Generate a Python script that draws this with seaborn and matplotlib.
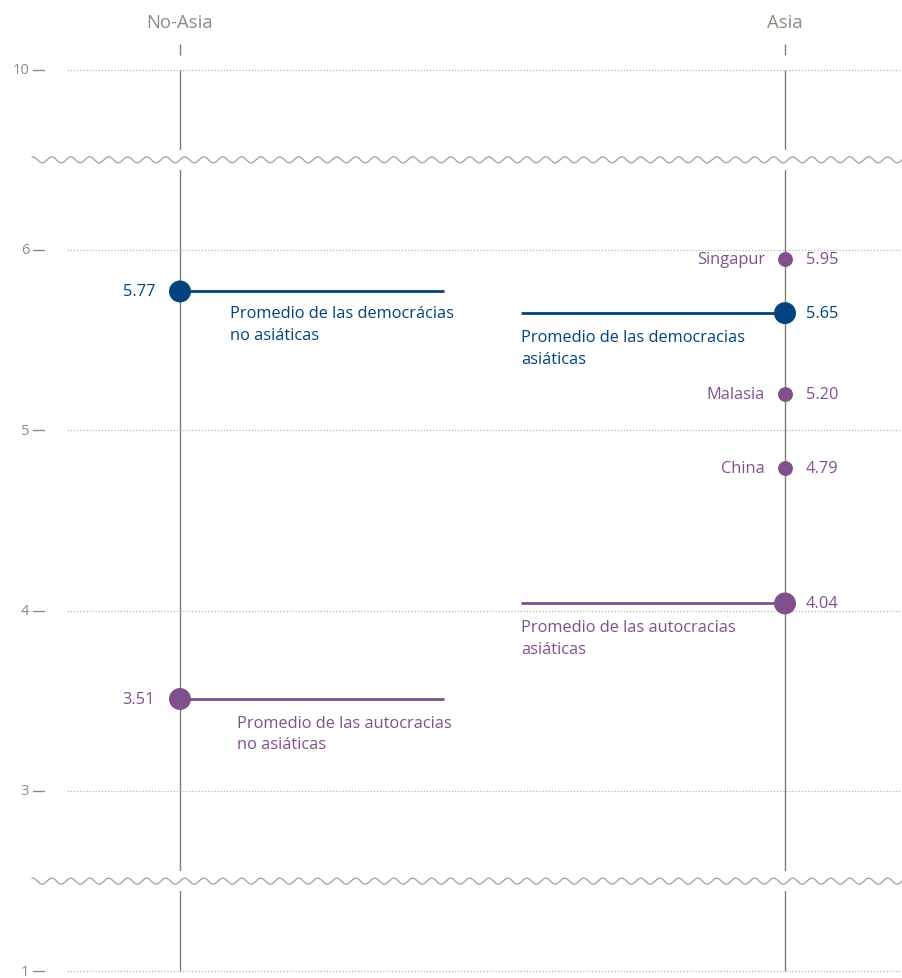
import matplotlib
matplotlib.use("Agg")
import matplotlib.pyplot as plt
import numpy as np
import pandas as pd
import seaborn as sns

# Data
regions = ["No-Asia", "Asia"]
avg_region = ["No-Asia", "No-Asia", "Asia", "Asia"]
avg_regime = ["democracia", "autocracia", "democracia", "autocracia"]
avg_values = [5.77, 3.51, 5.65, 4.04]
avg_labels = [
    "Promedio de las democrácias\nno asiáticas",
    "Promedio de las autocracias\nno asiáticas",
    "Promedio de las democracias\nasiáticas",
    "Promedio de las autocracias\nasiáticas",
]
countries = ["Singapur", "Malasia", "China"]
country_values = [5.95, 5.20, 4.79]
tick_values = [10, 6, 5, 4, 3, 1]

# Colours
BLUE = "#00437f"
PURPLE = "#80508c"
GREY_TXT = "#8c8c82"
GREY_LINE = "#7d7d73"
GRID = "#b8b8b0"
palette = {"democracia": BLUE, "autocracia": PURPLE}

# pixel sizes in data units (x: 605 px per region step, y: 180.33 px per unit)
PX_X = 1 / 605
PX_Y = 1 / 180.33
FS = 11.8


def to_pos(v):
    # broken axis: 10 is drawn where 7 would be, 1 where 2 would be
    if v >= 7:
        return 7
    if v <= 2:
        return 2
    return v


sns.set_theme(style="white")
plt.rcParams["font.family"] = ["Open Sans", "DejaVu Sans"]

fig = plt.figure(figsize=(9.03, 9.79), dpi=100)
ax = fig.add_axes([0, 0, 1, 1])
ax.axis("off")

x_of = {r: i for i, r in enumerate(regions)}

# dotted gridlines and tick labels
for t in tick_values:
    y = to_pos(t)
    ax.plot([-113 * PX_X, 1 + 115 * PX_X], [y, y], color=GRID, lw=0.9,
            linestyle=(0, (1, 1.5)), zorder=1)
    ax.text(-151 * PX_X, y, str(t), ha="right", va="center", fontsize=10.5,
            color=GREY_TXT)
    ax.plot([-147 * PX_X, -136 * PX_X], [y, y], color=GREY_TXT, lw=1, zorder=1)

# region columns
for r in regions:
    x = x_of[r]
    ax.text(x, 6 + 228 * PX_Y, r, ha="center", va="center", fontsize=13.3,
            color=GREY_TXT)
    ax.vlines(x, to_pos(10) + 15 * PX_Y, to_pos(10) + 26 * PX_Y,
              color=GREY_LINE, lw=1, zorder=1)
    ax.vlines(x, to_pos(1), to_pos(10), color=GREY_LINE, lw=1, zorder=1)

# axis breaks (wavy lines)
for yb in [6.5, 2.5]:
    for r in regions:
        ax.vlines(x_of[r], yb - 10 * PX_Y, yb + 10 * PX_Y, color="white",
                  lw=3, zorder=2)
    xs = np.linspace(-148 * PX_X, 1 + 118 * PX_X, 1500)
    ys = yb + 3 * PX_Y * np.sin(2 * np.pi * (xs / (19 * PX_X)))
    ax.plot(xs, ys, color="#a8a8a0", lw=1.0, zorder=3)

# averages
avg = pd.DataFrame({
    "region": avg_region,
    "regime": avg_regime,
    "value": avg_values,
    "label": avg_labels,
})
avg["x"] = avg["region"].map(x_of)
avg["y"] = avg["value"].map(to_pos)

line_len = 264 * PX_X
for _, row in avg.iterrows():
    c = palette[row["regime"]]
    if row["region"] == "No-Asia":
        ax.hlines(row["y"], row["x"], row["x"] + line_len, color=c, lw=2,
                  zorder=4)
        ax.text(row["x"] - 25 * PX_X, row["y"], f"{row['value']:.2f}",
                ha="right", va="center", fontsize=FS, color=c)
        dx = 50 if row["regime"] == "democracia" else 57
        dy = 14 if row["regime"] == "democracia" else 16
        ax.text(row["x"] + dx * PX_X, row["y"] - dy * PX_Y, row["label"],
                ha="left", va="top", fontsize=FS, color=c, linespacing=1.45)
    else:
        ax.hlines(row["y"], row["x"] - line_len, row["x"], color=c, lw=2,
                  zorder=4)
        ax.text(row["x"] + 21 * PX_X, row["y"], f"{row['value']:.2f}",
                ha="left", va="center", fontsize=FS, color=c)
        ax.text(row["x"] - line_len, row["y"] - 16 * PX_Y, row["label"],
                ha="left", va="top", fontsize=FS, color=c, linespacing=1.45)

sns.scatterplot(data=avg, x="x", y="y", hue="regime", palette=palette,
                s=250, linewidth=0, legend=False, ax=ax, zorder=5)

# individual Asian autocracies
cdf = pd.DataFrame({"country": countries, "value": country_values})
cdf["x"] = x_of["Asia"]
cdf["y"] = cdf["value"].map(to_pos)
sns.scatterplot(data=cdf, x="x", y="y", color=PURPLE, s=115, linewidth=0,
                legend=False, ax=ax, zorder=5)
for _, row in cdf.iterrows():
    ax.text(row["x"] - 20 * PX_X, row["y"], row["country"], ha="right",
            va="center", fontsize=FS, color=PURPLE)
    ax.text(row["x"] + 21 * PX_X, row["y"], f"{row['value']:.2f}", ha="left",
            va="center", fontsize=FS, color=PURPLE)

ax.set_xlim(-180 * PX_X, 1 + 118 * PX_X)
ax.set_ylim(6 - (979 - 251) * PX_Y, 6 + 251 * PX_Y)

fig.savefig("out.png", dpi=100)
